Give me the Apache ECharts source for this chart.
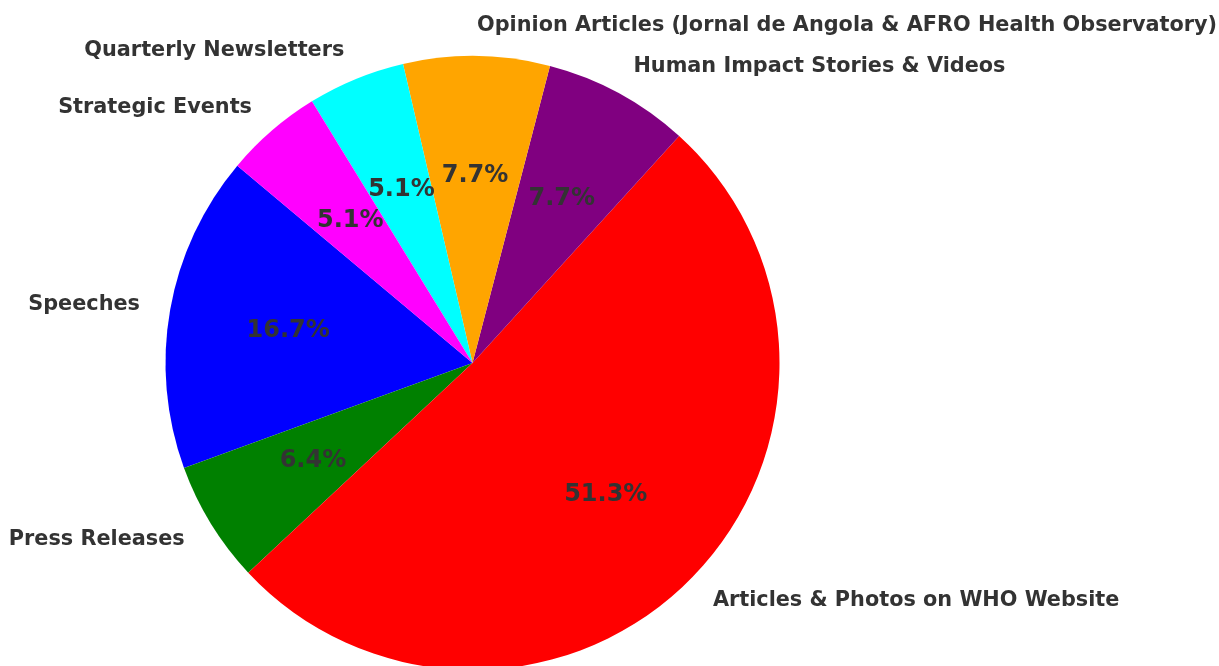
<!DOCTYPE html>
<html>
<head>
<meta charset="utf-8">
<script src="https://cdn.jsdelivr.net/npm/echarts@6/dist/echarts.min.js"></script>
<style>html,body{margin:0;padding:0;background:#fff}#c{width:1219px;height:666px}</style>
</head>
<body>
<div id="c"></div>
<script>
const categories = ["Speeches", "Press Releases", "Articles & Photos on WHO Website", "Human Impact Stories & Videos", "Opinion Articles (Jornal de Angola & AFRO Health Observatory)", "Quarterly Newsletters", "Strategic Events"];
const values = [13, 5, 40, 6, 6, 4, 4];
const colors = ["#0000ff", "#008000", "#ff0000", "#800080", "#ffa500", "#00ffff", "#ff00ff"];

const total = values.reduce((a, b) => a + b, 0);
const R = 307;
const center = [472.5, 363];
const font = "'DejaVu Sans', sans-serif";

const chart = echarts.init(document.getElementById('c'));
chart.setOption({
  animation: false,
  series: [
    {
      type: 'pie',
      center: center,
      radius: [0, R],
      startAngle: 140,
      clockwise: false,
      avoidLabelOverlap: false,
      silent: true,
      data: categories.map((n, i) => ({ name: n, value: values[i], itemStyle: { color: colors[i] } })),
      label: {
        show: true,
        position: 'outside',
        formatter: '{b}',
        color: '#333333',
        fontFamily: font,
        fontWeight: 'bold',
        fontSize: 20.8,
        distanceToLabelLine: 0
      },
      labelLine: { show: false, length: 0.1 * R, length2: 0 }
    },
    {
      type: 'pie',
      center: center,
      radius: [0.2 * R, R],
      startAngle: 140,
      clockwise: false,
      avoidLabelOverlap: false,
      silent: true,
      data: categories.map((n, i) => ({ name: n, value: values[i], itemStyle: { color: 'rgba(0,0,0,0)' } })),
      label: {
        show: true,
        position: 'inside',
        formatter: p => (p.value / total * 100).toFixed(1) + '%',
        color: '#333333',
        fontFamily: font,
        fontWeight: 'bold',
        fontSize: 24
      },
      labelLine: { show: false }
    }
  ]
});
</script>
</body>
</html>
